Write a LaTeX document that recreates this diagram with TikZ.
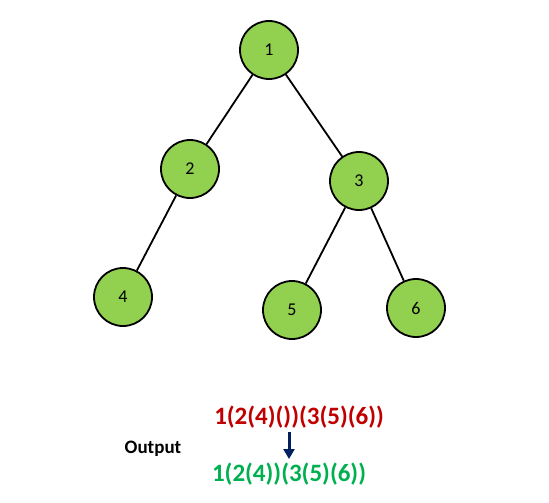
\documentclass[tikz,border=0pt]{standalone}
\usepackage{fontspec}
\setmainfont{Carlito}
\usetikzlibrary{arrows.meta}
\definecolor{nodegreen}{HTML}{92D050}
\definecolor{txtred}{HTML}{C00000}
\definecolor{txtgreen}{HTML}{00B050}
\definecolor{navy}{HTML}{002060}
\begin{document}
\begin{tikzpicture}[x=1pt,y=-1pt,
  treenode/.style={circle,draw=black,line width=1.8pt,fill=nodegreen,minimum size=58pt,inner sep=0pt,font=\fontsize{18}{20}\selectfont},
  edge/.style={draw=black,line width=1.8pt}]
\useasboundingbox (0,0) rectangle (549,503);
\node[treenode] (n1) at (269,50) {1};
\node[treenode] (n2) at (190,169) {2};
\node[treenode] (n3) at (359,181) {3};
\node[treenode] (n4) at (123,297) {4};
\node[treenode] (n5) at (292,310) {5};
\node[treenode] (n6) at (416,308) {6};
\draw[edge] (n1) -- (n2);
\draw[edge] (n1) -- (n3);
\draw[edge] (n2) -- (n4);
\draw[edge] (n3) -- (n5);
\draw[edge] (n3) -- (n6);
\node[text=txtred,font=\bfseries\fontsize{25}{29}\selectfont] (t1) at (299,417) {1(2(4)())(3(5)(6))};
\node[text=txtgreen,font=\bfseries\fontsize{25}{29}\selectfont] (t2) at (289,474) {1(2(4))(3(5)(6))};
\node[font=\bfseries\fontsize{19}{22}\selectfont] (out) at (153,449) {Output};
\coordinate (a1) at (289,432);
\coordinate (a2) at (289,459);
\draw[navy,line width=3pt,-{Triangle[length=10pt,width=11pt]}] (a1) -- (a2);
\end{tikzpicture}
\end{document}
